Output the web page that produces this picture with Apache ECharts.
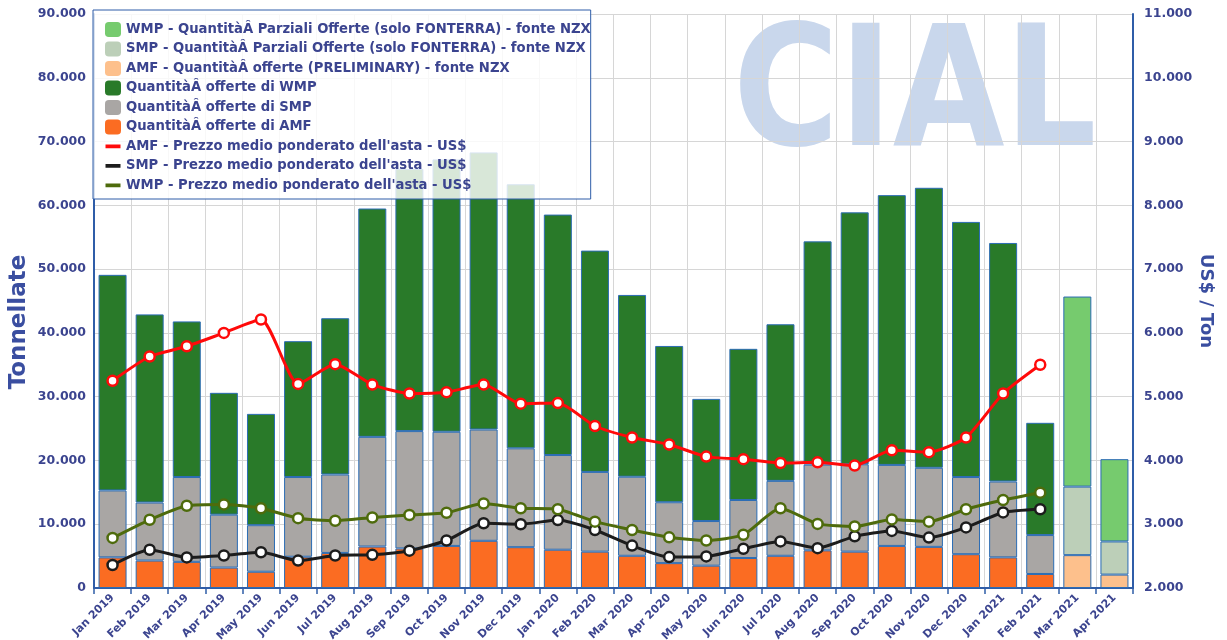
<!DOCTYPE html>
<html><head><meta charset="utf-8">
<script src="https://cdn.jsdelivr.net/npm/echarts@6/dist/echarts.min.js"></script>
<style>html,body{margin:0;padding:0;background:#fff}#c{width:1227px;height:640px}</style>
</head><body><div id="c"></div>
<script>
const categories = ['Jan 2019','Feb 2019','Mar 2019','Apr 2019','May 2019','Jun 2019','Jul 2019','Aug 2019','Sep 2019','Oct 2019','Nov 2019','Dec 2019',
  'Jan 2020','Feb 2020','Mar 2020','Apr 2020','May 2020','Jun 2020','Jul 2020','Aug 2020','Sep 2020','Oct 2020','Nov 2020','Dec 2020',
  'Jan 2021','Feb 2021','Mar 2021','Apr 2021'];
const amfQty        = [4800,4300,4100,3200,2550,4900,5500,6500,6200,6600,7400,6400,6000,5700,5050,3900,3500,4700,5050,5900,5700,6600,6450,5300,4800,2200,null,null];
const amfPrelimQty  = [null,null,null,null,null,null,null,null,null,null,null,null,null,null,null,null,null,null,null,null,null,null,null,null,null,null,5150,2100];
const smpQty        = [10500,9100,13300,8300,7300,12500,12300,17200,18400,17900,17450,15500,14850,12500,12400,9550,7000,9100,11750,13450,13700,12700,12400,12100,11900,6100,null,null];
const smpPartialQty = [null,null,null,null,null,null,null,null,null,null,null,null,null,null,null,null,null,null,null,null,null,null,null,null,null,null,10750,5200];
const wmpQty        = [33800,29500,24400,19100,17450,21300,24500,35800,41100,42700,43450,41400,37700,34700,28500,24500,19150,23700,24550,35000,39500,42300,43900,40000,37400,17600,null,null];
const wmpPartialQty = [null,null,null,null,null,null,null,null,null,null,null,null,null,null,null,null,null,null,null,null,null,null,null,null,null,null,29800,12900];
const amfPrice = [5250,5630,5790,6000,6210,5200,5510,5190,5050,5070,5190,4890,4900,4540,4360,4250,4060,4020,3960,3970,3920,4160,4130,4360,5050,5500,null,null];
const smpPrice = [2360,2600,2480,2510,2560,2430,2510,2520,2585,2745,3015,3000,3065,2910,2665,2485,2495,2615,2730,2625,2810,2895,2790,2950,3185,3235,null,null];
const wmpPrice = [2785,3070,3290,3310,3250,3095,3055,3105,3145,3180,3325,3250,3235,3040,2910,2795,2745,2835,3250,3005,2965,3075,3040,3235,3380,3495,null,null];
const qtyTicks   = [0,10000,20000,30000,40000,50000,60000,70000,80000,90000];
const priceTicks = [2000,3000,4000,5000,6000,7000,8000,9000,10000,11000];

const names = {
  wmpP: 'WMP - QuantitàÂ Parziali Offerte (solo FONTERRA) - fonte NZX',
  smpP: 'SMP - QuantitàÂ Parziali Offerte (solo FONTERRA) - fonte NZX',
  amfP: 'AMF - QuantitàÂ offerte (PRELIMINARY) - fonte NZX',
  wmp: 'QuantitàÂ offerte di WMP',
  smp: 'QuantitàÂ offerte di SMP',
  amf: 'QuantitàÂ offerte di AMF',
  amfL: "AMF - Prezzo medio ponderato dell'asta - US$",
  smpL: "SMP - Prezzo medio ponderato dell'asta - US$",
  wmpL: "WMP - Prezzo medio ponderato dell'asta - US$"
};
const colors = {
  amf: '#fb6c22', amfP: '#fdc08c', smp: '#a9a6a4', smpP: '#bccfb8', wmp: '#297a29', wmpP: '#76cb6e',
  amfL: '#ff0a0a', smpL: '#1c1c1c', wmpL: '#4e6b0c'
};
const fmt = v => String(v).replace(/\B(?=(\d{3})+(?!\d))/g, '.');
const FONT = '"DejaVu Sans", Verdana, sans-serif';
const TXT = '#3b448f';
const AX = '#2f5da8';
const lineIcon = 'path://M0,6h16v4h-16z M0,0h0.01v0.01h-0.01z M0,16h0.01v0.01h-0.01z';

function bar(key, data) {
  return { name: names[key], type: 'bar', stack: 'q', data, barWidth: 28, z: 2,
    itemStyle: { color: colors[key], borderColor: '#2b6cb4', borderWidth: 1 },
    emphasis: { disabled: true } };
}
function line(key, data) {
  const color = colors[key];
  return { name: names[key], type: 'line', yAxisIndex: 1, data, z: 5, smooth: 0.2,
    symbol: 'circle', symbolSize: 10, showSymbol: true,
    lineStyle: { color, width: 3 },
    itemStyle: { color: '#ffffff', borderColor: color, borderWidth: 2.5 },
    emphasis: { disabled: true } };
}
const legendItem = (key, isLine) => ({
  name: names[key], icon: isLine ? lineIcon : 'roundRect',
  itemStyle: { color: colors[key], borderWidth: 0 }
});

const chart = echarts.init(document.getElementById('c'), null, { renderer: 'canvas' });
chart.setOption({
  animation: false,
  backgroundColor: '#ffffff',
  textStyle: { fontFamily: FONT },
  graphic: [{
    type: 'text', x: 733, y: 101, z: -10, scaleX: 0.86, silent: true,
    style: { text: 'CIAL', font: 'bold 168px "DejaVu Sans"', fill: '#c9d7ec', verticalAlign: 'middle', align: 'left' }
  }],
  grid: { left: 94, right: 94, top: 14, bottom: 52, containLabel: false, outerBoundsMode: 'none' },
  legend: {
    orient: 'vertical', left: 93, top: 10,
    padding: [12, 0, 6, 12], itemGap: 4.5, itemWidth: 16, itemHeight: 15,
    backgroundColor: 'rgba(255,255,255,0.82)', borderColor: AX, borderWidth: 1,
    textStyle: { color: TXT, fontWeight: 'bold', fontSize: 13.2, lineHeight: 15, fontFamily: FONT },
    selectedMode: false,
    data: [
      legendItem('wmpP'), legendItem('smpP'), legendItem('amfP'),
      legendItem('wmp'), legendItem('smp'), legendItem('amf'),
      legendItem('amfL', true), legendItem('smpL', true), legendItem('wmpL', true)
    ]
  },
  xAxis: {
    type: 'category', data: categories, boundaryGap: true,
    axisLine: { lineStyle: { color: AX, width: 2 } },
    axisTick: { show: true, length: 6, lineStyle: { color: AX, width: 1.5 } },
    axisLabel: { rotate: 45, interval: 0, color: TXT, fontWeight: 'bold', fontSize: 11, fontFamily: FONT, margin: 8 },
    splitLine: { show: true, interval: 0, lineStyle: { color: '#d6d6d6', width: 1 } }
  },
  yAxis: [{
    type: 'value', min: qtyTicks[0], max: qtyTicks[qtyTicks.length - 1], interval: qtyTicks[1] - qtyTicks[0],
    name: 'Tonnellate', nameLocation: 'middle', nameGap: 63, nameRotate: 90, nameMoveOverlap: false,
    nameTextStyle: { color: '#3a4ea0', fontWeight: 'bold', fontSize: 23, fontFamily: FONT, padding: [0, 42, 0, 0] },
    axisLine: { show: true, lineStyle: { color: AX, width: 2 } },
    axisTick: { show: false },
    axisLabel: { color: TXT, fontWeight: 'bold', fontSize: 12.5, fontFamily: FONT, margin: 8, formatter: fmt },
    splitLine: { show: true, lineStyle: { color: '#d6d6d6', width: 1 } }
  }, {
    type: 'value', min: priceTicks[0], max: priceTicks[priceTicks.length - 1], interval: priceTicks[1] - priceTicks[0],
    position: 'right',
    name: 'US$ / Ton', nameLocation: 'middle', nameGap: 64, nameRotate: -90, nameMoveOverlap: false,
    nameTextStyle: { color: '#3a4ea0', fontWeight: 'bold', fontSize: 18, fontFamily: FONT },
    axisLine: { show: true, lineStyle: { color: AX, width: 2 } },
    axisTick: { show: false },
    axisLabel: { color: TXT, fontWeight: 'bold', fontSize: 12.5, fontFamily: FONT, margin: 11, formatter: fmt },
    splitLine: { show: false }
  }],
  series: [
    bar('amf', amfQty), bar('amfP', amfPrelimQty),
    bar('smp', smpQty), bar('smpP', smpPartialQty),
    bar('wmp', wmpQty), bar('wmpP', wmpPartialQty),
    line('amfL', amfPrice), line('smpL', smpPrice), line('wmpL', wmpPrice)
  ]
});
</script>
</body></html>
